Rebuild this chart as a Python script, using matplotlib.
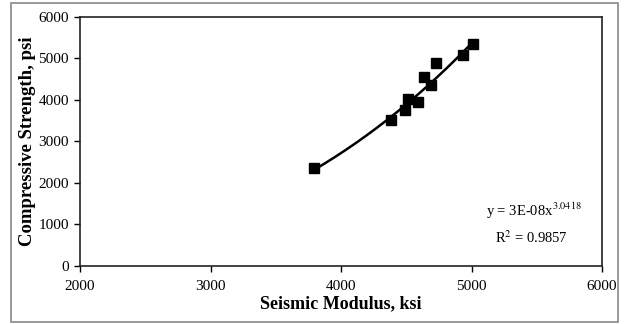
import numpy as np
import matplotlib
matplotlib.use("Agg")
import matplotlib.pyplot as plt
from matplotlib.patches import Rectangle

plt.rcParams['font.family'] = ['Liberation Serif', 'DejaVu Serif']
plt.rcParams['mathtext.fontset'] = 'stix'

# Seismic modulus (ksi) and compressive strength (psi)
modulus = [3795, 4383, 4490, 4511, 4592, 4636, 4687, 4730, 4937, 5009]
strength = [2350, 3511, 3752, 4016, 3937, 4538, 4353, 4875, 5075, 5332]

# Power-law trend: y = a * x^b
coef_a = 3e-8
coef_b = 3.0418
r_squared = 0.9857

x_ticks = [2000, 3000, 4000, 5000, 6000]
y_ticks = [0, 1000, 2000, 3000, 4000, 5000, 6000]

fig = plt.figure(figsize=(6.26, 3.24), dpi=100)
ax = fig.add_axes([80 / 626, 58 / 324, 522 / 626, 249.5 / 324])

xs = np.linspace(min(modulus), max(modulus), 200)
ax.plot(xs, coef_a * xs ** coef_b, color='black', lw=1.8, zorder=2)
ax.plot(modulus, strength, 's', color='black', ms=7.5, zorder=3)

ax.set_xlim(2000, 6000)
ax.set_ylim(0, 6000)
ax.set_xticks(x_ticks)
ax.set_yticks(y_ticks)
ax.tick_params(direction='out', length=4, width=1.0, labelsize=11,
               colors='black')
ax.tick_params(axis='x', pad=6)
ax.tick_params(axis='y', pad=4)
for s in ax.spines.values():
    s.set_linewidth(1.2)
    s.set_color('#222222')

ax.set_xlabel('Seismic Modulus, ksi', fontsize=13, fontweight='bold', labelpad=2)
ax.set_ylabel('Compressive Strength, psi', fontsize=13.5, fontweight='bold', labelpad=1.5)

ax.text(534 / 626, 108 / 324, 'y = 3E-08x$^{3.0418}$', transform=fig.transFigure,
        ha='center', va='baseline', fontsize=10.5)
ax.text(531 / 626, 81 / 324, f'R$^2$ = {r_squared}', transform=fig.transFigure,
        ha='center', va='baseline', fontsize=10.5)

fig.patches.append(Rectangle((11 / 626, 2 / 324), 607 / 626, 319 / 324,
                             transform=fig.transFigure, fill=False,
                             edgecolor='#888888', lw=1.2))

fig.savefig('out.png', dpi=100)
